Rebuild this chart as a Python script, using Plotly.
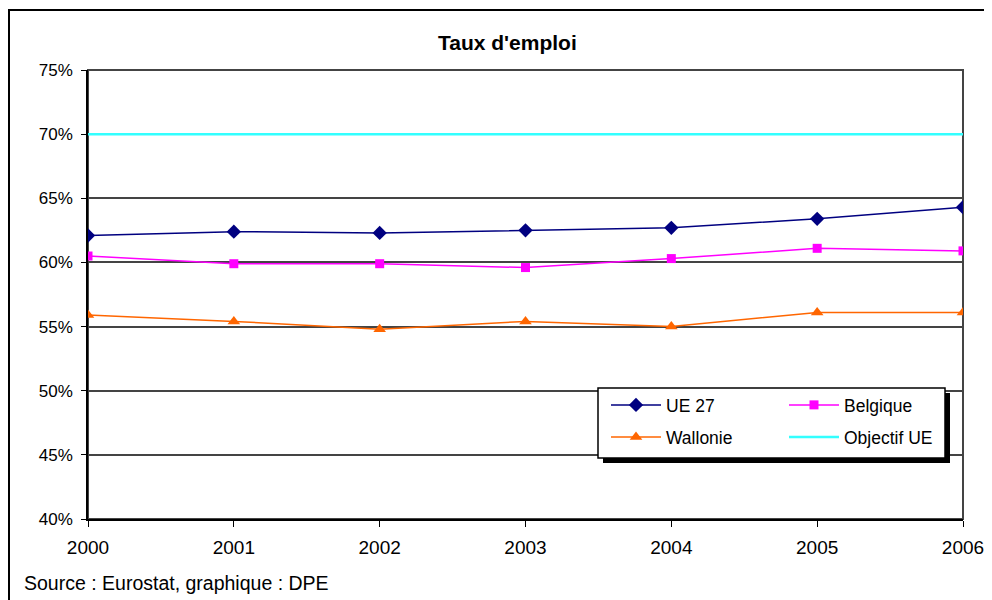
import plotly.graph_objects as go

years = ["2000", "2001", "2002", "2003", "2004", "2005", "2006"]
ue27 = [62.1, 62.4, 62.3, 62.5, 62.7, 63.4, 64.3]
belgique = [60.5, 59.9, 59.9, 59.6, 60.3, 61.1, 60.9]
wallonie = [55.9, 55.4, 54.8, 55.4, 55.0, 56.1, 56.1]
objectif = [70, 70, 70, 70, 70, 70, 70]
yticks = [40, 45, 50, 55, 60, 65, 70, 75]
ytext = ["40%", "45%", "50%", "55%", "60%", "65%", "70%", "75%"]

FONT = "Liberation Sans"
fig = go.Figure()
fig.add_trace(go.Scatter(x=years, y=ue27, name="UE 27", mode="lines+markers",
                         line=dict(color="#000080", width=1.5),
                         marker=dict(symbol="diamond", size=11, color="#000080"),
                         legend="legend"))
fig.add_trace(go.Scatter(x=years, y=belgique, name="Belgique", mode="lines+markers",
                         line=dict(color="#FF00FF", width=1.5),
                         marker=dict(symbol="square", size=9, color="#FF00FF"),
                         legend="legend"))
fig.add_trace(go.Scatter(x=years, y=wallonie, name="Wallonie", mode="lines+markers",
                         line=dict(color="#FF6600", width=1.5),
                         marker=dict(symbol="triangle-up", size=11, color="#FF6600"),
                         legend="legend2"))
fig.add_trace(go.Scatter(x=years, y=objectif, name="Objectif UE", mode="lines",
                         line=dict(color="#33FFFF", width=2.5),
                         legend="legend2"))

OFF = 8  # page body margin
W, H = 992, 600
PL, PR, PT, PB = 88, 963, 70, 519  # plot area in screen pixels
L, T = PL - OFF, PT - OFF
pw, ph = PR - PL, PB - PT
R = W - L - pw
B = H - T - ph
def px(x): return (x - PL) / pw
def py(y): return (PB - y) / ph

leg_common = dict(orientation="h", xanchor="left", yanchor="middle",
                  entrywidth=113, itemwidth=50, bgcolor="rgba(0,0,0,0)",
                  font=dict(size=17.5))

fig.update_layout(
    width=W, height=H,
    margin=dict(l=L, r=R, t=T, b=B, autoexpand=False),
    paper_bgcolor="white", plot_bgcolor="white",
    font=dict(family=FONT, size=17, color="black"),
    xaxis=dict(type="category", range=[0, 6], showgrid=False, showline=True,
               linecolor="black", linewidth=1.5, ticks="outside", ticklen=6,
               tickcolor="black", tickfont=dict(size=19), ticklabelstandoff=4,
               fixedrange=True),
    yaxis=dict(range=[40, 75], tickvals=yticks, ticktext=ytext, showgrid=True,
               gridcolor="#444444", gridwidth=2, showline=True, linecolor="black",
               linewidth=1.5, ticks="outside", ticklen=5, tickcolor="black",
               ticklabelstandoff=5, zeroline=False, tickfont=dict(size=17)),
    legend=dict(x=px(606), y=py(405), **leg_common),
    legend2=dict(x=px(606), y=py(437), **leg_common),
    shapes=[
        dict(type="rect", xref="paper", yref="paper", x0=0, x1=1, y0=0, y1=1,
             line=dict(color="#444444", width=2), layer="below"),
        dict(type="rect", xref="paper", yref="paper", x0=px(9), x1=px(1010), y0=py(630), y1=py(10),
             line=dict(color="black", width=2), layer="below"),
        dict(type="rect", xref="paper", yref="paper", x0=px(603), x1=px(950), y0=py(463), y1=py(393),
             line=dict(width=0), fillcolor="black", layer="above"),
        dict(type="rect", xref="paper", yref="paper", x0=px(598), x1=px(945), y0=py(458), y1=py(388),
             line=dict(color="black", width=1.5), fillcolor="white", layer="above"),
    ],
    annotations=[
        dict(text="<b>Taux d'emploi</b>", xref="paper", yref="paper", x=px(507), y=py(42),
             showarrow=False, font=dict(size=21), xanchor="center", yanchor="middle"),
        dict(text="Source : Eurostat, graphique : DPE", xref="paper", yref="paper",
             x=px(22), y=py(583), showarrow=False, font=dict(size=19.5),
             xanchor="left", yanchor="middle"),
    ],
)
fig.write_html("out.html")
